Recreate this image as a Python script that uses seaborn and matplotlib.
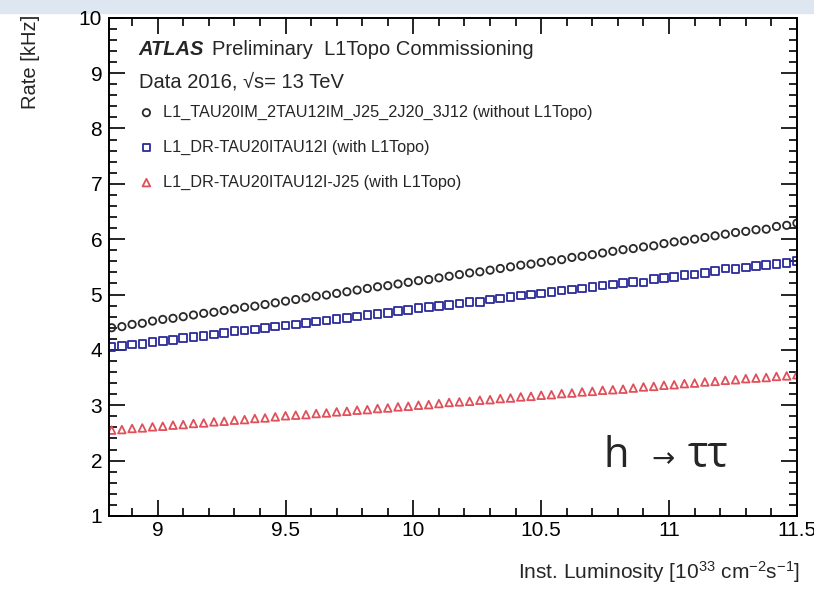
import numpy as np
import pandas as pd
import matplotlib
matplotlib.use('Agg')
import matplotlib.pyplot as plt
from matplotlib.patches import Rectangle
from matplotlib.ticker import MultipleLocator
import seaborn as sns

# Instantaneous luminosity bins [10^33 cm^-2 s^-1]
lumi = [8.82, 8.86, 8.90, 8.94, 8.98, 9.02, 9.06, 9.10, 9.14, 9.18,
        9.22, 9.26, 9.30, 9.34, 9.38, 9.42, 9.46, 9.50, 9.54, 9.58,
        9.62, 9.66, 9.70, 9.74, 9.78, 9.82, 9.86, 9.90, 9.94, 9.98,
        10.02, 10.06, 10.10, 10.14, 10.18, 10.22, 10.26, 10.30, 10.34, 10.38,
        10.42, 10.46, 10.50, 10.54, 10.58, 10.62, 10.66, 10.70, 10.74, 10.78,
        10.82, 10.86, 10.90, 10.94, 10.98, 11.02, 11.06, 11.10, 11.14, 11.18,
        11.22, 11.26, 11.30, 11.34, 11.38, 11.42, 11.46, 11.50]

# Rates [kHz]
rate_no_topo = [4.40, 4.42, 4.46, 4.48, 4.52, 4.55, 4.57, 4.60, 4.63, 4.66,
                4.68, 4.71, 4.74, 4.77, 4.79, 4.82, 4.85, 4.88, 4.91, 4.94,
                4.97, 4.99, 5.02, 5.05, 5.08, 5.11, 5.14, 5.16, 5.19, 5.22,
                5.25, 5.27, 5.30, 5.33, 5.36, 5.39, 5.41, 5.44, 5.47, 5.50,
                5.53, 5.55, 5.58, 5.61, 5.63, 5.67, 5.69, 5.72, 5.75, 5.78,
                5.81, 5.83, 5.86, 5.88, 5.92, 5.95, 5.97, 6.00, 6.03, 6.06,
                6.09, 6.12, 6.14, 6.17, 6.18, 6.23, 6.25, 6.29]
rate_dr = [4.05, 4.07, 4.10, 4.11, 4.14, 4.16, 4.18, 4.21, 4.23, 4.25,
           4.28, 4.30, 4.34, 4.35, 4.37, 4.39, 4.42, 4.44, 4.46, 4.49,
           4.51, 4.53, 4.56, 4.58, 4.60, 4.63, 4.65, 4.67, 4.70, 4.72,
           4.76, 4.77, 4.79, 4.81, 4.84, 4.86, 4.87, 4.91, 4.93, 4.95,
           4.98, 5.00, 5.02, 5.04, 5.07, 5.09, 5.11, 5.14, 5.16, 5.18,
           5.21, 5.23, 5.22, 5.28, 5.30, 5.32, 5.35, 5.36, 5.39, 5.42,
           5.47, 5.46, 5.49, 5.51, 5.53, 5.55, 5.57, 5.60]
rate_dr_j25 = [2.55, 2.56, 2.58, 2.59, 2.61, 2.62, 2.64, 2.65, 2.67, 2.68,
               2.70, 2.71, 2.73, 2.74, 2.76, 2.77, 2.79, 2.81, 2.82, 2.83,
               2.85, 2.86, 2.88, 2.89, 2.91, 2.92, 2.94, 2.95, 2.97, 2.98,
               3.00, 3.01, 3.03, 3.05, 3.06, 3.07, 3.09, 3.10, 3.12, 3.13,
               3.15, 3.16, 3.18, 3.19, 3.21, 3.22, 3.24, 3.25, 3.27, 3.28,
               3.29, 3.31, 3.33, 3.34, 3.36, 3.37, 3.39, 3.40, 3.42, 3.43,
               3.45, 3.46, 3.48, 3.49, 3.50, 3.52, 3.53, 3.55]

labels = ['L1_TAU20IM_2TAU12IM_J25_2J20_3J12 (without L1Topo)',
          'L1_DR-TAU20ITAU12I (with L1Topo)',
          'L1_DR-TAU20ITAU12I-J25 (with L1Topo)']

df = pd.DataFrame({'lumi': lumi, 'no_topo': rate_no_topo,
                   'dr': rate_dr, 'dr_j25': rate_dr_j25})

sns.set_style('ticks')
plt.rcParams['font.family'] = ['Liberation Sans', 'DejaVu Sans']
plt.rcParams['mathtext.default'] = 'regular'

fig = plt.figure(figsize=(8.14, 5.91), dpi=100)
ax = fig.add_axes([0.134, 0.127, 0.845, 0.843])

# slide header strip
fig.patches.append(Rectangle((0, 0.978), 1, 0.022, transform=fig.transFigure,
                             color='#dde6f1', zorder=-1))

sns.scatterplot(data=df, x='lumi', y='no_topo', marker='o', s=28,
                facecolors='none', edgecolors='#2a2a2a', linewidth=1.3,
                label=labels[0], ax=ax)
sns.scatterplot(data=df, x='lumi', y='dr', marker='s', s=30,
                facecolors='none', edgecolors='#2a2a9a', linewidth=1.3,
                label=labels[1], ax=ax)
sns.scatterplot(data=df, x='lumi', y='dr_j25', marker='^', s=30,
                facecolors='none', edgecolors='#e0505a', linewidth=1.3,
                label=labels[2], ax=ax)

ax.set_xlim(8.81, 11.5)
ax.set_ylim(1, 10)
ax.xaxis.set_major_locator(MultipleLocator(0.5))
ax.xaxis.set_minor_locator(MultipleLocator(0.1))
ax.yaxis.set_major_locator(MultipleLocator(1))
ax.yaxis.set_minor_locator(MultipleLocator(0.2))
ax.set_xticks([9, 9.5, 10, 10.5, 11, 11.5])
ax.set_xticklabels(['9', '9.5', '10', '10.5', '11', '11.5'])
ax.tick_params(which='both', direction='in', top=True, right=True,
               width=1.2, colors='black', labelsize=15)
ax.tick_params(which='major', length=11.5)
ax.tick_params(which='minor', length=5.5)
ax.tick_params(axis='x', pad=4)
ax.tick_params(axis='y', pad=5)
for sp in ax.spines.values():
    sp.set_linewidth(1.4)
    sp.set_color('black')
ax.set_xlabel('')
ax.set_ylabel('')

fig.text(0.037, 0.975, 'Rate [kHz]', rotation=90, ha='center', va='top',
         fontsize=14.5)
fig.text(0.983, 0.032, 'Inst. Luminosity [10$^{33}$ cm$^{-2}$s$^{-1}$]',
         ha='right', va='center', fontsize=15)

ax.text(0.043, 0.936, 'ATLAS', transform=ax.transAxes, fontsize=14.5,
        fontweight='bold', fontstyle='italic', va='center')
ax.text(0.150, 0.936, 'Preliminary  L1Topo Commissioning',
        transform=ax.transAxes, fontsize=14.5, va='center')
ax.text(0.043, 0.870, 'Data 2016, \u221as= 13 TeV', transform=ax.transAxes,
        fontsize=14.5, va='center')

ax.legend(loc='upper left', bbox_to_anchor=(0.033, 0.838), frameon=False,
          fontsize=11.7, labelspacing=1.22, handletextpad=0.55,
          handlelength=1.0, borderaxespad=0)

# h -> tau tau annotation
fig.text(0.741, 0.210, 'h', fontsize=30, family=['Open Sans', 'DejaVu Sans'],
         ha='left', va='baseline')
fig.text(0.800, 0.223, '\u2192', fontsize=20, family=['DejaVu Sans'],
         ha='left', va='center')
fig.text(0.845, 0.210, '\u03c4\u03c4', fontsize=31,
         family=['Open Sans', 'DejaVu Sans'], ha='left', va='baseline')

fig.savefig('out.png', dpi=100)
